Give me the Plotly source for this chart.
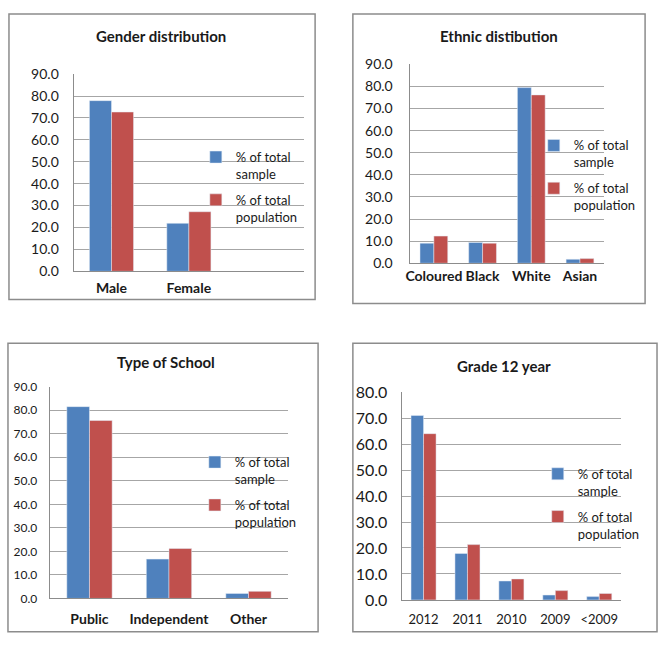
import plotly.graph_objects as go

W, H = 660, 666

# ---- data ----
gender_cats = ["Male", "Female"]
gender_sample = [77.9, 21.9]
gender_pop = [72.7, 27.2]

ethnic_cats = ["Coloured", "Black", "White", "Asian"]
ethnic_sample = [9.1, 9.4, 79.5, 1.8]
ethnic_pop = [12.3, 9.1, 76.2, 2.1]

school_cats = ["Public", "Independent", "Other"]
school_sample = [81.5, 16.7, 2.1]
school_pop = [75.6, 21.2, 3.0]

grade_cats = ["2012", "2011", "2010", "2009", "<2009"]
grade_sample = [71.0, 17.9, 7.3, 1.9, 1.3]
grade_pop = [64.0, 21.3, 8.1, 3.6, 2.5]

series_names = ["% of total<br>sample", "% of total<br>population"]
BLUE = "#4F81BD"
RED = "#C0504D"
FONT = "Lato"

def fx(px):
    return px / W

def fy(py):
    return 1 - py / H

panels = [
    dict(cats=gender_cats, s=gender_sample, p=gender_pop, title="Gender distribution",
         plot=(70, 302, 66, 269), rng=[0, 90], xr=[-0.49, 2.49], border=(5, 313, 4, 298),
         title_xy=(158, 27), leg=(193, 136), xbold=True, xstand=4, ystand=11,
         ysize=14, xsize=14),
    dict(cats=ethnic_cats, s=ethnic_sample, p=ethnic_pop, title="Ethnic distibution",
         plot=(408, 604, 56, 260.7), rng=[0, 90], xr=[-0.5, 3.5], border=(351, 645, 4, 302),
         title_xy=(498, 27), leg=(533, 124), xbold=True, xstand=0, ystand=13,
         ysize=14, xsize=14),
    dict(cats=school_cats, s=school_sample, p=school_pop, title="Type of School",
         plot=(46, 286, 387.7, 605.7), rng=[0, 90], xr=[-0.5, 2.5], border=(4, 316, 343, 640),
         title_xy=(163, 362), leg=(192, 450), xbold=True, xstand=8, ystand=9,
         ysize=12, xsize=14),
    dict(cats=grade_cats, s=grade_sample, p=grade_pop, title="Grade 12 year",
         plot=(400, 621, 393.3, 607.3), rng=[0, 80], xr=[-0.5, 4.5], border=(351, 657, 343, 640),
         title_xy=(503, 366), leg=(537, 462), xbold=False, xstand=7, ystand=10,
         ysize=16, xsize=13),
]

fig = go.Figure()
layout = dict(
    width=W, height=H, margin=dict(l=0, r=0, t=0, b=0),
    paper_bgcolor="white", plot_bgcolor="white",
    barmode="group", bargap=0.43, bargroupgap=0,
    font=dict(family=FONT, color="#1a1a1a"),
    shapes=[], annotations=[],
)

for i, pn in enumerate(panels):
    k = "" if i == 0 else str(i + 1)
    xa, ya = "x" + k, "y" + k
    leg = "legend" + k
    grp = "g" + str(i)
    fig.add_trace(go.Bar(x=pn["cats"], y=pn["s"], name=series_names[0], marker_color=BLUE,
                         xaxis=xa, yaxis=ya, legend=leg, legendgroup=grp + "s"))
    fig.add_trace(go.Bar(x=pn["cats"], y=pn["p"], name=series_names[1], marker_color=RED,
                         xaxis=xa, yaxis=ya, legend=leg, legendgroup=grp + "p"))
    x0, x1, y0, y1 = pn["plot"]
    layout["xaxis" + k] = dict(
        domain=[fx(x0), fx(x1)], anchor=ya, range=pn["xr"], showgrid=False,
        showline=True, linecolor="#8c8c8c", linewidth=1, ticks="",
        tickfont=dict(size=pn["xsize"], family=FONT, weight="bold" if pn["xbold"] else "normal",
                      color="#1a1a1a"),
        ticklabelstandoff=pn["xstand"], fixedrange=True,
    )
    layout["yaxis" + k] = dict(
        domain=[fy(y1), fy(y0)], anchor=xa, range=pn["rng"], dtick=10, tickformat=".1f",
        showgrid=True, gridcolor="#a6a6a6", gridwidth=1, zeroline=False,
        showline=True, linecolor="#8c8c8c", linewidth=1, ticks="",
        tickfont=dict(size=pn["ysize"], family=FONT, color="#1a1a1a"),
        ticklabelstandoff=pn["ystand"], fixedrange=True,
    )
    lx, ly = pn["leg"]
    layout[leg] = dict(
        x=fx(lx), y=fy(ly), xanchor="left", yanchor="top", xref="paper", yref="paper",
        bgcolor="rgba(0,0,0,0)", borderwidth=0, valign="top", tracegroupgap=6,
        font=dict(size=13, family=FONT, color="#1a1a1a"), itemwidth=30,
    )
    bx0, bx1, by0, by1 = pn["border"]
    layout["shapes"].append(dict(type="rect", xref="paper", yref="paper",
                                 x0=fx(bx0), x1=fx(bx1), y0=fy(by1), y1=fy(by0),
                                 line=dict(color="#8c8c8c", width=1.5)))
    tx, ty = pn["title_xy"]
    layout["annotations"].append(dict(text="<b>" + pn["title"] + "</b>", xref="paper", yref="paper",
                                      x=fx(tx), y=fy(ty), xanchor="center", yanchor="middle",
                                      showarrow=False, font=dict(size=15, family=FONT, color="#1a1a1a")))

fig.update_layout(**layout)
fig.write_html("out.html")
